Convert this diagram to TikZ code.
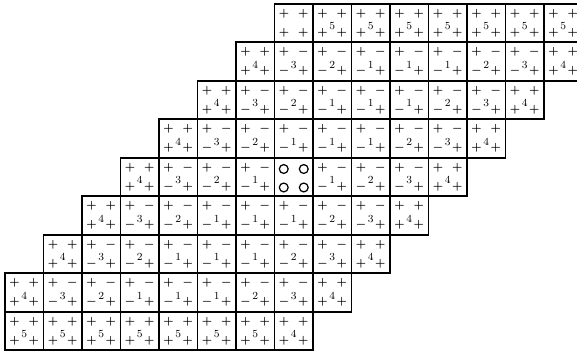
\documentclass[tikz,border=0pt]{standalone}
\usepackage{amsmath,amssymb}
\usepackage{tikz}
\usetikzlibrary{positioning}
\tikzset{
  gridcell/.style={draw, line width=1.35pt, minimum size=1cm, inner sep=0pt, outer sep=0pt},
  cornersign/.style={font=\footnotesize\boldmath, inner sep=0pt},
  cellcount/.style={font=\footnotesize, inner sep=0pt},
  zeroring/.style={circle, draw, line width=0.9pt, minimum size=2.3mm, inner sep=0pt},
}

\begin{document}
\begin{tikzpicture}
  \useasboundingbox (-0.13,0.10) rectangle (14.857,-9.017);
  % 6 = no count, 9 = ring cell, 1--3 take minus corners
  \foreach \r/\s/\row in {
    0/7/{6,5,5,5,5,5,5,5},
    1/6/{4,3,2,1,1,1,2,3,4},
    2/5/{4,3,2,1,1,1,2,3,4},
    3/4/{4,3,2,1,1,1,2,3,4},
    4/3/{4,3,2,1,9,1,2,3,4},
    5/2/{4,3,2,1,1,1,2,3,4},
    6/1/{4,3,2,1,1,1,2,3,4},
    7/0/{4,3,2,1,1,1,2,3,4},
    8/0/{5,5,5,5,5,5,5,4}}{
    \foreach \v [count=\k from 0] in \row {
      \pgfmathtruncatemacro{\c}{\s+\k}
      \node[gridcell] (cell\r-\c) at (\c+0.5,-\r-0.5) {};
      \ifnum\v=9
        \foreach \q/\dx/\dy in {a/-1/1,b/1/1,c/-1/-1,d/1/-1}
          \node[zeroring, xshift=\dx*2.6mm, yshift=\dy*2.4mm-0.3mm] (ring\q) at (cell\r-\c.center) {};
      \else
        \ifnum\v<4 \def\sg{$-$}\else\def\sg{$+$}\fi
        \node[cornersign, xshift=-2.5mm, yshift=2.5mm] (tl\r-\c) at (cell\r-\c.center) {$+$};
        \node[cornersign, xshift=2.5mm, yshift=2.5mm] (tr\r-\c) at (cell\r-\c.center) {\sg};
        \node[cornersign, xshift=-2.5mm, yshift=-2.5mm] (bl\r-\c) at (cell\r-\c.center) {\sg};
        \node[cornersign, xshift=2.5mm, yshift=-2.5mm] (br\r-\c) at (cell\r-\c.center) {$+$};
        \ifnum\v<6
          \node[cellcount, yshift=-0.8mm] (n\r-\c) at (cell\r-\c.center) {\v};
        \fi
      \fi
    }
  }
\end{tikzpicture}
\end{document}
